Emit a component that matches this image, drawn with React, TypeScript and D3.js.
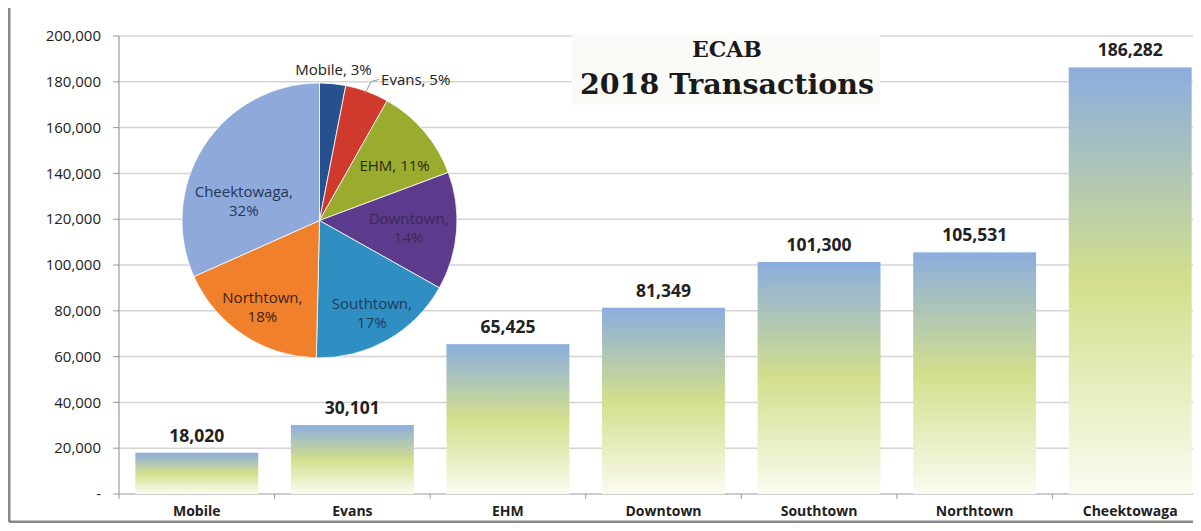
import React from "react";
import * as d3 from "d3";

const categories = ["Mobile", "Evans", "EHM", "Downtown", "Southtown", "Northtown", "Cheektowaga"];
const transactions = [18020, 30101, 65425, 81349, 101300, 105531, 186282];
const yTicks = [0, 20000, 40000, 60000, 80000, 100000, 120000, 140000, 160000, 180000, 200000];
const pieColors = ["#27508f", "#d03a2c", "#9aab2e", "#5c3b8c", "#2f8fc2", "#f0802c", "#8fa9da"];
const pieLabels = ["Mobile, 3%", "Evans, 5%", "EHM, 11%", "Downtown, 14%", "Southtown, 17%", "Northtown, 18%", "Cheektowaga, 32%"];
const pieLabelRadius = [1, 1, 0.68, 0.65, 0.77, 0.75, 0.57];
const pieLabelNudge = [[0, 0], [0, 0], [4, 6], [0, 0], [0, 0], [0, 0], [-10, 22]];
const pieTextColors = ["#222", "#222", "#2a2a10", "#3a2a58", "#1e3a5a", "#3a2410", "#22365a"];

const W = 1201;
const H = 531;
const left = 119;
const right = 1208;
const top = 36;
const bottom = 494;

export default function App() {
  const x = d3.scaleBand<string>().domain(categories).range([left, right]).paddingInner(0.21).paddingOuter(0.105);
  const y = d3.scaleLinear().domain([0, 200000]).range([bottom, top]);
  const fmt = d3.format(",");

  const pieGen = d3.pie<number>().sort(null).value((d) => d);
  const arcs = pieGen(transactions);
  const R = 137.5;
  const cx = 319.5;
  const cy = 220.5;
  const arcGen = d3.arc<d3.PieArcDatum<number>>().innerRadius(0).outerRadius(R);
  const sans = "'Open Sans', 'Noto Sans', sans-serif";

  const bandStep = x.step();
  const tickXs = d3.range(categories.length + 1).map((i) => left + i * bandStep);

  return (
    <div style={{ margin: -8 }}>
      <svg width={W} height={H} style={{ display: "block", background: "#fff" }}>
        <defs>
          <linearGradient id="barGrad" x1="0" y1="0" x2="0" y2="1">
            <stop offset="0" stopColor="#8badde" />
            <stop offset="0.5" stopColor="#d3df8c" />
            <stop offset="1" stopColor="#fbfcf1" />
          </linearGradient>
        </defs>
        {/* frame */}
        <line x1={9} y1={0} x2={9} y2={522} stroke="#8a8a8a" strokeWidth={3} />
        <line x1={9} y1={522} x2={W} y2={522} stroke="#8a8a8a" strokeWidth={3} />

        {/* gridlines */}
        {yTicks.slice(1).map((t) => (
          <line key={t} x1={left} x2={right} y1={y(t)} y2={y(t)} stroke="#d4d4d4" strokeWidth={1.5} />
        ))}

        {/* y axis */}
        <line x1={left} x2={left} y1={top} y2={bottom} stroke="#9a9a9a" strokeWidth={1.2} />
        {yTicks.map((t) => (
          <g key={t}>
            <line x1={left - 6} x2={left} y1={y(t)} y2={y(t)} stroke="#9a9a9a" />
            <text x={101} y={y(t)} dy="0.35em" textAnchor="end" fontFamily={sans} fontSize={15} fill="#222">
              {t === 0 ? "-" : fmt(t)}
            </text>
          </g>
        ))}

        {/* x axis */}
        <line x1={left} x2={right} y1={bottom} y2={bottom} stroke="#9a9a9a" strokeWidth={1.2} />
        {tickXs.map((tx, i) => (
          <line key={i} x1={tx} x2={tx} y1={bottom} y2={bottom + 5} stroke="#9a9a9a" />
        ))}

        {/* bars */}
        {categories.map((c, i) => (
          <g key={c}>
            <rect x={x(c)} y={y(transactions[i])} width={x.bandwidth()} height={bottom - y(transactions[i])} fill="url(#barGrad)" />
            <text x={(x(c) as number) + x.bandwidth() / 2} y={y(transactions[i]) - 11} textAnchor="middle" fontFamily={sans} fontWeight="bold" fontSize={17.5} fill="#222">
              {fmt(transactions[i])}
            </text>
            <text x={(x(c) as number) + x.bandwidth() / 2} y={516} textAnchor="middle" fontFamily={sans} fontWeight="bold" fontSize={14} fill="#222">
              {c}
            </text>
          </g>
        ))}

        {/* title */}
        <rect x={572} y={33} width={308} height={72} fill="#fafaf6" />
        <text x={727} y={57} textAnchor="middle" fontFamily="'DejaVu Serif', serif" fontWeight="bold" fontSize={22} fill="#1a1a1a">
          ECAB
        </text>
        <text x={727} y={94} textAnchor="middle" fontFamily="'DejaVu Serif', serif" fontWeight="bold" fontSize={28.5} fill="#1a1a1a">
          2018 Transactions
        </text>

        {/* pie */}
        <g transform={`translate(${cx},${cy})`}>
          {arcs.map((a, i) => (
            <path key={i} d={arcGen(a) as string} fill={pieColors[i]} stroke="#fff" strokeWidth={0.8} />
          ))}
          {arcs.map((a, i) => {
            if (i === 0) {
              return (
                <text key={i} x={14} y={-R - 8} textAnchor="middle" fontFamily={sans} fontSize={15} fill="#222">
                  {pieLabels[i]}
                </text>
              );
            }
            if (i === 1) {
              const [ex, ey] = d3.arc<d3.PieArcDatum<number>>().innerRadius(R).outerRadius(R).centroid(a);
              return (
                <g key={i}>
                  <path d={`M${ex - 2},${ey + 2} L${ex + 4},${ey - 10} L${ex + 12},${ey - 12}`} fill="none" stroke="#999" />
                  <text x={ex + 14} y={ey - 12} dy="0.35em" fontFamily={sans} fontSize={15} fill="#222">
                    {pieLabels[i]}
                  </text>
                </g>
              );
            }
            const rr = R * pieLabelRadius[i];
            const [lx0, ly0] = d3.arc<d3.PieArcDatum<number>>().innerRadius(rr).outerRadius(rr).centroid(a);
            const lx = lx0 + pieLabelNudge[i][0];
            const ly = ly0 + pieLabelNudge[i][1];
            const parts = pieLabels[i].split(", ");
            const twoLine = i >= 3;
            return twoLine ? (
              <text key={i} x={lx} y={ly} textAnchor="middle" fontFamily={sans} fontSize={15} fill={pieTextColors[i]}>
                <tspan x={lx} dy="-0.2em">{parts[0]},</tspan>
                <tspan x={lx} dy="1.25em">{parts[1]}</tspan>
              </text>
            ) : (
              <text key={i} x={lx} y={ly} dy="0.35em" textAnchor="middle" fontFamily={sans} fontSize={15} fill={pieTextColors[i]}>
                {pieLabels[i]}
              </text>
            );
          })}
        </g>
      </svg>
    </div>
  );
}
